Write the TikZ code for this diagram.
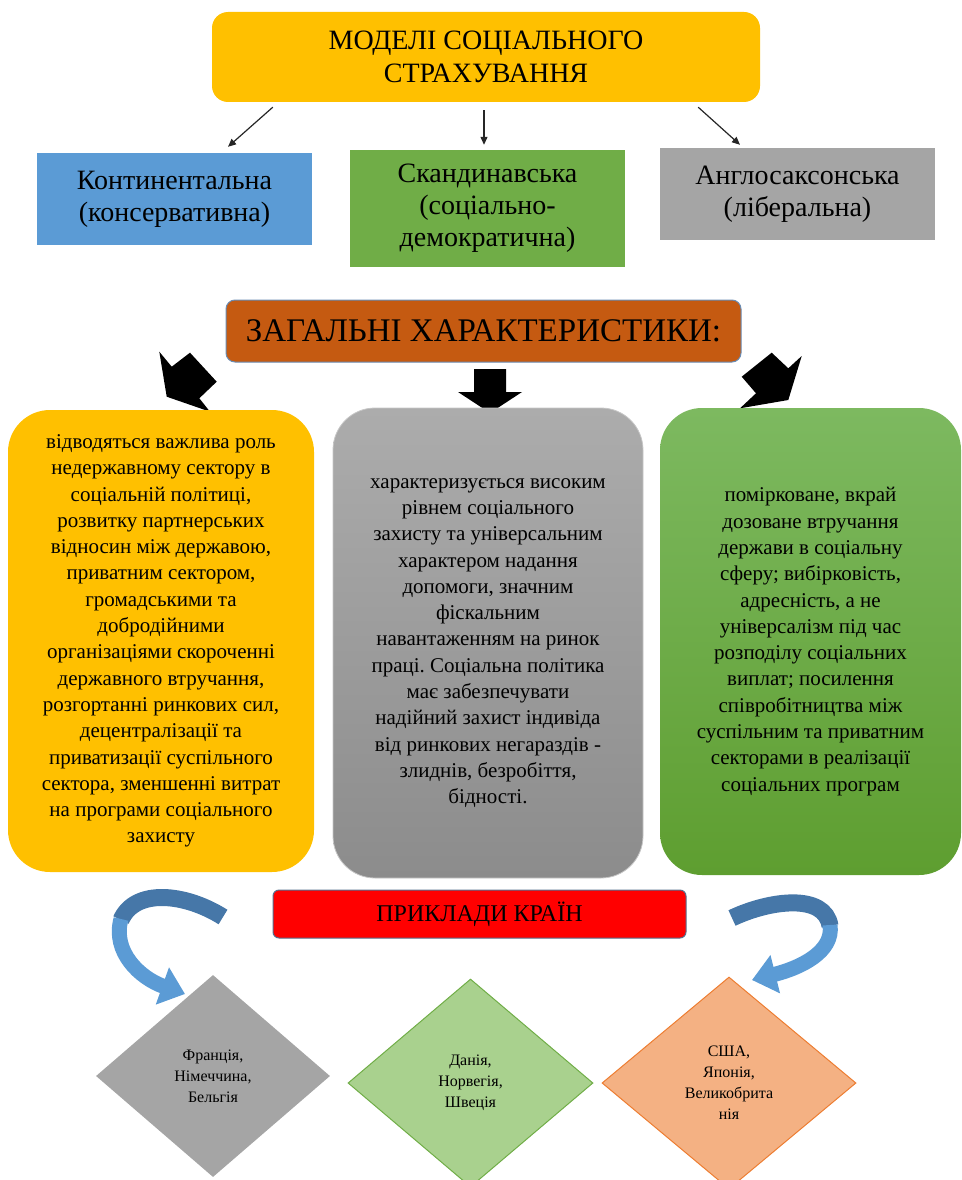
\documentclass[tikz,border=0pt]{standalone}
\usepackage{fontspec}
\setmainfont{Liberation Serif}
\usetikzlibrary{arrows.meta,shapes.geometric,calc}
\frenchspacing
\definecolor{cYel}{HTML}{FFC000}
\definecolor{cBlue}{HTML}{5B9BD5}
\definecolor{cDBlue}{HTML}{4677A8}
\definecolor{cGreen}{HTML}{70AD47}
\definecolor{cGray}{HTML}{A5A5A5}
\definecolor{cBrown}{HTML}{C55A11}
\definecolor{cEdge}{HTML}{6A8CB3}
\definecolor{cRed}{HTML}{FF0000}
\definecolor{cLGreen}{HTML}{A9D18E}
\definecolor{cPeach}{HTML}{F4B183}
\definecolor{cOrange}{HTML}{ED7D31}
\definecolor{gTop}{RGB}{172,172,172}
\definecolor{gBot}{RGB}{140,140,140}
\definecolor{grTop}{RGB}{125,185,96}
\definecolor{grBot}{RGB}{94,158,48}
\begin{document}
\begin{tikzpicture}[x=1pt,y=-1pt,
  base/.style={inner sep=0pt, align=center, text=black},
  catbox/.style={base, font=\fontsize{28}{32}\selectfont},
  charbox/.style={base, rounded corners=42pt, font=\fontsize{21}{26.3}\selectfont},
  dia/.style={base, shape=diamond, font=\fontsize{16}{21}\selectfont},
  arr/.style={-{Triangle[length=8pt,width=7pt]}, line width=1.2pt, draw=black!85},
  cdark/.style={line width=17pt, draw=cDBlue},
  clight/.style={line width=15pt, draw=cBlue, -{Triangle[length=24pt,width=38pt]}}
]
\useasboundingbox (0,0) rectangle (961,1180);

% header
\node[base, fill=cYel, rounded corners=16pt, minimum width=548pt, minimum height=90pt,
  font=\fontsize{28}{33}\selectfont] (hdr) at (486,57) {МОДЕЛІ СОЦІАЛЬНОГО\\СТРАХУВАННЯ};

% categories
\node[catbox, fill=cBlue, minimum width=275pt, minimum height=92pt] (cont) at (174.5,199) {Континентальна\\(консервативна)};
\node[catbox, fill=cGreen, minimum width=275pt, minimum height=117pt] (scan) at (487.5,208.5) {Скандинавська\\(соціально-\\демократична)};
\node[catbox, fill=cGray, minimum width=275pt, minimum height=92pt] (angl) at (797.5,194) {Англосаксонська\\(ліберальна)};

\draw[arr] ([shift={(61,5)}]hdr.south west) -- ([shift={(53.5,-6)}]cont.north);
\draw[arr] ([shift={(-2,8)}]hdr.south) -- ([shift={(-3.5,-5)}]scan.north);
\draw[arr] ([shift={(-62,5)}]hdr.south east) -- ([shift={(-57.5,-3)}]angl.north);

% general characteristics
\node[base, fill=cBrown, draw=cEdge, line width=1pt, rounded corners=9pt, minimum width=515pt, minimum height=62pt,
  font=\fontsize{33}{36}\selectfont] (gen) at (483.5,331) {ЗАГАЛЬНІ ХАРАКТЕРИСТИКИ:};

% black block arrows
\fill[black] (159.3,351.7) -- (171.7,366.7) -- (190,352.7) -- (216.7,381.7) -- (199.3,398.3) -- (210,411.7) -- (166.7,396.7) -- cycle;
\fill[black] (474,369) -- (506,369) -- (506,392) -- (522,392) -- (490,413) -- (458,392) -- (474,392) -- cycle;
\fill[black] (801.7,356) -- (788.3,368.3) -- (771.7,352.7) -- (741.7,376.7) -- (756,393.3) -- (740,408.3) -- (788.3,400) -- cycle;

% characteristic boxes
\node[charbox, fill=cYel, minimum width=306pt, minimum height=462pt] (c1) at (161,641) {відводяться важлива роль\\недержавному сектору в\\соціальній політиці,\\розвитку партнерських\\відносин між державою,\\приватним сектором,\\громадськими та\\добродійними\\організаціями скороченні\\державного втручання,\\розгортанні ринкових сил,\\децентралізації та\\приватизації суспільного\\сектора, зменшенні витрат\\на програми соціального\\захисту};
\node[charbox, top color=gTop, bottom color=gBot, draw=gray!45, line width=0.8pt, minimum width=310pt, minimum height=470pt] (c2) at (488,643) {характеризується високим\\рівнем соціального\\захисту та універсальним\\характером надання\\допомоги, значним\\фіскальним\\навантаженням на ринок\\праці. Соціальна політика\\має забезпечувати\\надійний захист індивіда\\від ринкових негараздів -\\злиднів, безробіття,\\бідності.};
\node[charbox, top color=grTop, bottom color=grBot, minimum width=301pt, minimum height=467pt] (c3) at (810.5,641.5) {помірковане, вкрай\\дозоване втручання\\держави в соціальну\\сферу; вибірковість,\\адресність, а не\\універсалізм під час\\розподілу соціальних\\виплат; посилення\\співробітництва між\\суспільним та приватним\\секторами в реалізації\\соціальних програм};

% examples
\node[base, fill=cRed, draw=cEdge!80!black, line width=1pt, rounded corners=6pt, minimum width=413pt, minimum height=48pt,
  font=\fontsize{24}{26}\selectfont] (ex) at (479.5,914) {ПРИКЛАДИ КРАЇН};

% curved arrows
\draw[cdark] (223,917) .. controls (185,893) and (135,888) .. (121,920);
\draw[clight] (121,919) .. controls (112,952) and (140,978) .. (185,994);
\draw[cdark] (732,918) .. controls (770,900) and (825,893) .. (830,926);
\draw[clight] (830,925) .. controls (834,952) and (800,968) .. (752,980);

% diamonds
\node[dia, fill=cGray, minimum width=234pt, minimum height=202pt] (d1) at (213,1076) {Франція,\\Німеччина,\\Бельгія};
\node[dia, fill=cLGreen, draw=cGreen, line width=1pt, minimum width=245pt, minimum height=208pt] (d2) at (470.5,1083) {Данія,\\Норвегія,\\Швеція};
\node[dia, fill=cPeach, draw=cOrange, line width=1pt, minimum width=254pt, minimum height=212pt] (d3) at (729,1083) {США,\\Японія,\\Великобрита\\нія};
\end{tikzpicture}
\end{document}
